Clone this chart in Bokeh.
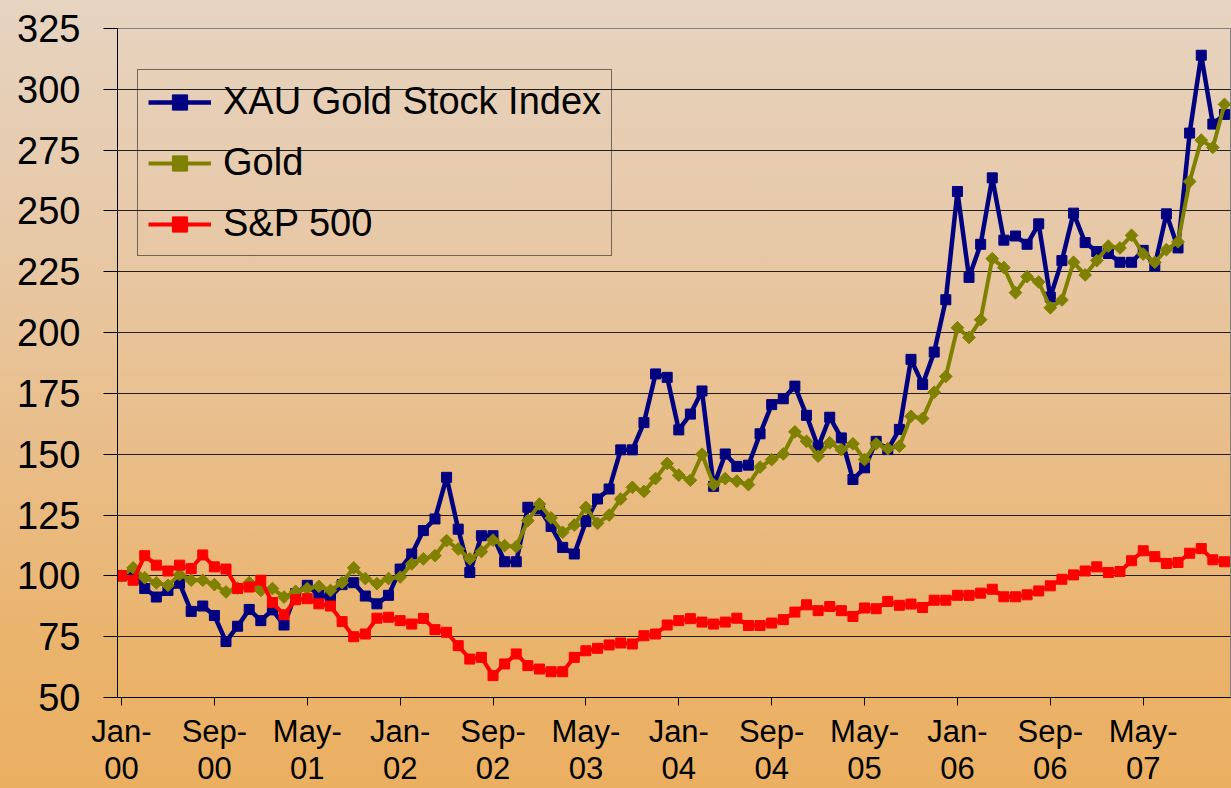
from bokeh.plotting import figure
from bokeh.models import Range1d, FixedTicker, Legend, LegendItem
from bokeh.embed import file_html
from bokeh.resources import INLINE

# ---------------- data (monthly, Jan-2000 .. Dec-2007, index = 100 at start) -------------
months = list(range(96))

xau = [100, 101, 94.8, 91.3, 94, 97, 85.4, 87.6, 83.7, 73,
       79.3, 86.2, 81.6, 86, 79.8, 92.7, 96.1, 92, 91.3, 96.4,
       97.2, 91.7, 88.5, 92, 102.8, 109, 118.6, 123.4, 140.5, 119.2,
       101.4, 116.5, 116.5, 105.8, 105.8, 128.2, 127.5, 120.3, 111.7, 109,
       122.3, 131.6, 135.7, 151.8, 151.8, 163, 183, 181.6, 160, 166.5,
       176, 136.8, 150.1, 145, 145.5, 158.4, 170.4, 172.8, 178, 166,
       152.9, 165.2, 156.7, 139.6, 144.4, 155.3, 151.9, 160.2, 189, 178.7,
       192, 213.5, 258, 222.7, 236.3, 263.6, 238, 239.7, 236.3, 244.7,
       214.6, 229.6, 249.1, 237, 233.3, 232.5, 228.9, 228.9, 233.8, 227.4,
       248.8, 234.8, 282, 314, 285.7, 289.7]

gold = [100, 103.3, 99.2, 97.1, 96.1, 100.5, 98.2, 98.2, 96.4, 93.4,
        95, 97.2, 94, 94.8, 91.3, 93.6, 94.8, 95.7, 94, 97.2,
        103.3, 98.9, 96.8, 98.9, 99.5, 104.9, 107, 108.3, 114.5, 111,
        107, 110, 114.7, 112.4, 112, 122.7, 129.5, 123.8, 117.9, 120.9,
        128.2, 121.6, 125, 131.6, 136.4, 134.7, 140, 146.2, 141.4, 139.3,
        150, 137.5, 140, 138.9, 137.5, 144.7, 147.8, 150.1, 159.2, 155.3,
        149.2, 154.7, 151.9, 154.3, 147.8, 154.3, 152.3, 153.3, 165.6, 164.7,
        175.5, 182, 202, 198, 205.3, 230.4, 226.7, 216.4, 223, 220.8,
        210.2, 213.4, 228.9, 223.7, 229.6, 235.5, 234.8, 240, 232.3, 228.9,
        234.1, 237.3, 262.1, 279.1, 276.1, 293.8]

spx = [100, 98.2, 108.3, 104.4, 102, 104.4, 103, 108.6, 103.7, 102.8,
       94.8, 95.4, 98.2, 89, 84, 90.2, 90.6, 88.5, 87.6, 81.2,
       75, 76.1, 82.6, 83, 81.6, 80.2, 82.5, 77.9, 76.8, 71.3,
       65.8, 66.5, 59, 63.8, 67.9, 63.1, 61.7, 60.6, 60.6, 66.5,
       69.2, 70.2, 71.6, 72.4, 72, 75.4, 76.1, 79.8, 81.6, 82.4,
       81, 80.2, 81, 82.6, 79.6, 79.6, 80.6, 82, 85.1, 88.1,
       85.7, 87.4, 85.7, 83.3, 86.8, 86.5, 89.5, 87.9, 88.4, 87,
       90, 90, 92, 92, 92.9, 94.5, 91.4, 91.4, 92.2, 93.8,
       95.9, 98.6, 100.4, 102, 103.7, 101.4, 101.8, 106.2, 110.3, 107.9,
       105.1, 105.5, 109.3, 111.2, 106.6, 105.8]

series_names = ["XAU Gold Stock Index", "Gold", "S&P 500"]

tick_months = [0, 8, 16, 24, 32, 40, 48, 56, 64, 72, 80, 88]
tick_month_names = ["Jan-", "Sep-", "May-", "Jan-", "Sep-", "May-",
                    "Jan-", "Sep-", "May-", "Jan-", "Sep-", "May-"]
tick_years = ["00", "00", "01", "02", "02", "03", "04", "04", "05", "06", "06", "07"]
y_ticks = [50, 75, 100, 125, 150, 175, 200, 225, 250, 275, 300, 325]

# ---------------- figure -------------
FONT = "Liberation Sans"

p = figure(width=1231, height=788, output_backend="svg", toolbar_location=None,
           x_range=Range1d(-0.345, 95.52), y_range=Range1d(50, 325),
           min_border_left=117, min_border_right=1, min_border_top=28,
           min_border_bottom=91)

p.styles = {"background": "linear-gradient(to bottom, #E6D4C1 0%, #E7C9A9 28%, "
                          "#E9BD88 58%, #EAB46E 80%, #EBAF61 100%)"}
p.background_fill_color = None
p.border_fill_color = None
p.outline_line_color = "#808080"
p.outline_line_width = 1

# series
bl = p.line(months, xau, line_color="#000080", line_width=4.5)
bs = p.scatter(months, xau, marker="square", size=10, fill_color="#000080",
               line_color="#000080", line_width=1)
gl = p.line(months, gold, line_color="#808000", line_width=4)
gs = p.scatter(months, gold, marker="square", angle=0.785398, size=9,
               fill_color="#808000", line_color="#808000", line_width=1)
rl = p.line(months, spx, line_color="#FF0000", line_width=4)
rs = p.scatter(months, spx, marker="square", size=10, fill_color="#FF0000",
               line_color="#FF0000", line_width=1)

# axes
p.yaxis.ticker = FixedTicker(ticks=y_ticks)
p.yaxis.major_label_text_font = FONT
p.yaxis.major_label_text_font_size = "38px"
p.yaxis.major_label_text_color = "black"
p.yaxis.major_tick_out = 14
p.yaxis.major_tick_in = 0
p.yaxis.minor_tick_out = 0
p.yaxis.minor_tick_in = 0
p.yaxis.major_label_standoff = 23
p.yaxis.axis_line_color = "black"
p.yaxis.major_tick_line_color = "black"

p.xaxis.ticker = FixedTicker(ticks=tick_months)
p.xaxis.major_label_overrides = {m: f"{a}\n{b}" for m, a, b in
                                 zip(tick_months, tick_month_names, tick_years)}
p.xaxis.major_label_text_font = FONT
p.xaxis.major_label_text_font_size = "31px"
p.xaxis.major_label_text_line_height = 1.07
p.xaxis.major_label_text_color = "black"
p.xaxis.major_label_standoff = 8
p.xaxis.major_tick_out = 8
p.xaxis.major_tick_in = 0
p.xaxis.minor_tick_out = 0
p.xaxis.minor_tick_in = 0
p.xaxis.axis_line_color = "black"
p.xaxis.major_tick_line_color = "black"

p.xgrid.grid_line_color = None
p.ygrid.grid_line_color = "black"
p.ygrid.grid_line_alpha = 0.85
p.ygrid.grid_line_width = 1

# legend
legend = Legend(items=[LegendItem(label=series_names[0], renderers=[bl, bs]),
                       LegendItem(label=series_names[1], renderers=[gl, gs]),
                       LegendItem(label=series_names[2], renderers=[rl, rs])],
                location=(20, 441))
legend.label_text_font = FONT
legend.label_text_font_size = "38px"
legend.label_text_color = "black"
legend.border_line_color = "black"
legend.border_line_width = 1
legend.background_fill_alpha = 0
legend.glyph_width = 63
legend.glyph_height = 38
legend.label_height = 38
legend.spacing = 18
legend.padding = 10
legend.margin = 0
legend.label_standoff = 12
p.add_layout(legend)

open("out.html", "w").write(file_html(p, INLINE))
